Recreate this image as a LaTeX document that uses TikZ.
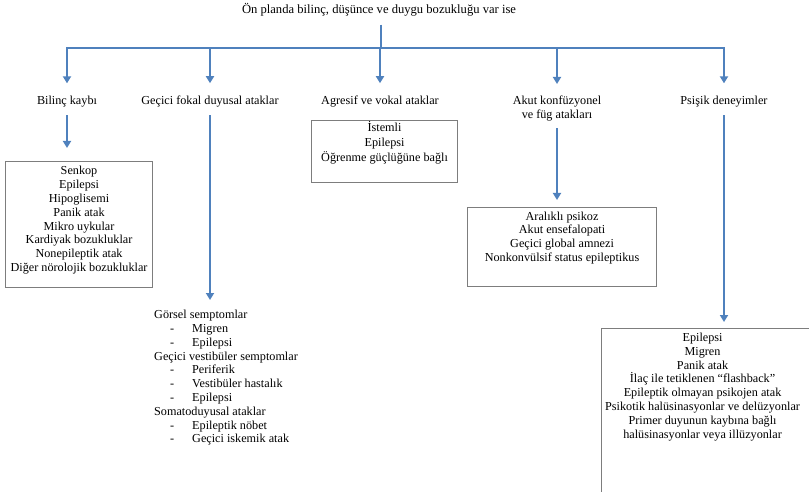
\documentclass[tikz,border=0pt]{standalone}
\usepackage{fontspec}
\setmainfont{Liberation Serif}
\usetikzlibrary{arrows.meta}
\definecolor{flow}{RGB}{79,129,189}
\definecolor{frame}{RGB}{125,125,125}

% one framed list: width, height, top gap, then the centred lines
\newcommand{\framedlist}[4]{\parbox[t][#2][t]{#1}{\centering\vspace*{#3}\strut #4}}
% an indented item with a dash
\newcommand{\dashitem}[1]{\hspace*{16pt}\makebox[22pt][l]{-}#1}
% a line of the psychic list, nudged left
\newcommand{\pline}[1]{\hspace*{-18pt}#1}

\begin{document}
\begin{tikzpicture}[x=1pt,y=-1pt,
  every node/.style={font=\rmfamily\fontsize{12.2}{13.8}\selectfont, inner sep=0pt},
  link/.style={draw=flow, line width=2.2pt},
  arr/.style={link, -{Triangle[width=8pt,length=7pt]}},
  heading/.style={anchor=base},
  listbox/.style={draw=frame, line width=1.1pt, anchor=north west}]
\useasboundingbox (0,0) rectangle (809,492);
\clip (0,0) rectangle (809,492);

% title and the distribution bar
\node[font=\rmfamily\fontsize{12.6}{14}\selectfont] (top) at (379,10) {Ön planda bilinç, düşünce ve duygu bozukluğu var ise};
\coordinate (bar) at (381,48);

% category headings
\node[heading] (h1) at (67,105) {Bilinç kaybı};
\node[heading] (h2) at (210,105) {Geçici fokal duyusal ataklar};
\node[heading] (h3) at (380,105) {Agresif ve vokal ataklar};
\node[anchor=north, align=center] (h4) at (557,96) {Akut konfüzyonel\\ve füg atakları};
\node[heading] (h5) at (724,105) {Psişik deneyimler};

% framed lists
\node[listbox] (b1) at (5,161) {\framedlist{147pt}{126pt}{3.6pt}{Senkop\\Epilepsi\\Hipoglisemi\\Panik atak\\Mikro uykular\\Kardiyak bozukluklar\\Nonepileptik atak\\Diğer nörolojik bozukluklar}};
\node[listbox] (b2) at (311,120) {\fontsize{12.2}{14.8}\selectfont\framedlist{146pt}{62pt}{0.8pt}{İstemli\\Epilepsi\\Öğrenme güçlüğüne bağlı}};
\node[listbox] (b3) at (467,207) {\framedlist{189pt}{79pt}{2.8pt}{Aralıklı psikoz\\Akut ensefalopati\\Geçici global amnezi\\Nonkonvülsif status epileptikus}};
\node[listbox] (b4) at (601,328) {\framedlist{220pt}{200pt}{3.2pt}{\pline{Epilepsi}\\\pline{Migren}\\\pline{Panik atak}\\\pline{İlaç ile tetiklenen “flashback”}\\\pline{Epileptik olmayan psikojen atak}\\\pline{Psikotik halüsinasyonlar ve delüzyonlar}\\\pline{Primer duyunun kaybına bağlı}\\\pline{halüsinasyonlar veya illüzyonlar}}};

% unframed list under the sensory attacks
\node[anchor=north west, align=left] (l2) at (154,310) {Görsel semptomlar\\
\dashitem{Migren}\\
\dashitem{Epilepsi}\\
Geçici vestibüler semptomlar\\
\dashitem{Periferik}\\
\dashitem{Vestibüler hastalık}\\
\dashitem{Epilepsi}\\
Somatoduyusal ataklar\\
\dashitem{Epileptik nöbet}\\
\dashitem{Geçici iskemik atak}};

% connectors
\draw[link, shorten <=8pt] (bar |- top.south) -- (bar);
\draw[arr, shorten >=13pt] (bar) -| (h1.north);
\draw[arr, shorten >=13pt] (bar) -| (h5.north);
\draw[arr, shorten >=13pt] (bar -| h2.north) -- (h2.north);
\draw[arr, shorten >=13pt] (bar -| h3.north) -- (h3.north);
\draw[arr, shorten >=12pt] (bar -| h4.north) -- (h4.north);

\draw[arr, shorten <=7.5pt, shorten >=13pt] (h1.south) -- (h1.south |- b1.north);
\draw[arr, shorten <=7.5pt, shorten >=10pt] (h2.south) -- (h2.south |- l2.north);
\draw[arr, shorten <=7pt, shorten >=7pt] (h4.south) -- (h4.south |- b3.north);
\draw[arr, shorten <=7.5pt, shorten >=6pt] (h5.south) -- (h5.south |- b4.north);
\end{tikzpicture}
\end{document}
